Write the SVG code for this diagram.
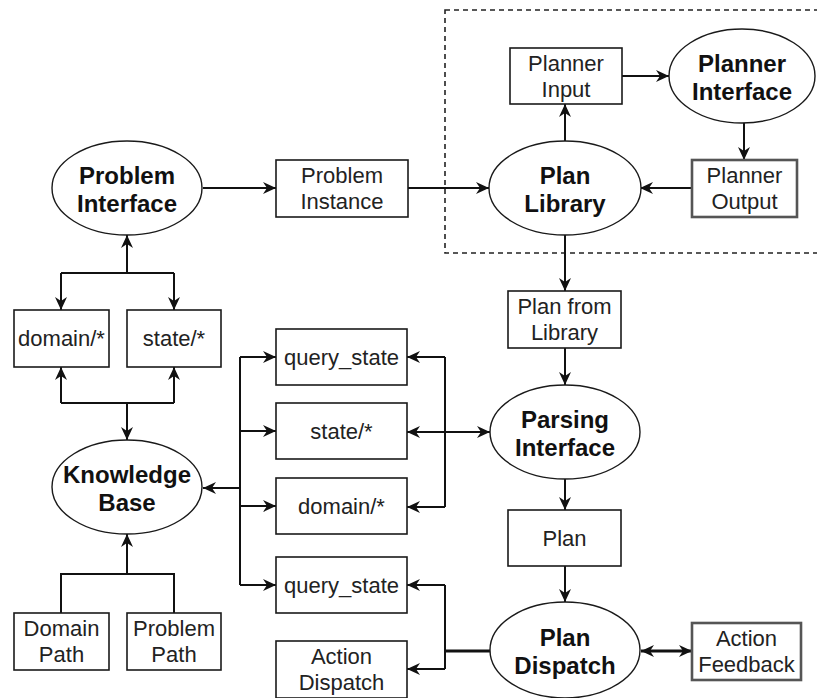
<svg xmlns="http://www.w3.org/2000/svg" width="817" height="698" viewBox="0 0 817 698">
  <style>
    .box { fill: #ffffff; stroke: #1a1a1a; stroke-width: 1.6; }
    .box2 { fill: #ffffff; stroke: #555555; stroke-width: 2.6; }
    .ell { fill: #ffffff; stroke: #1a1a1a; stroke-width: 1.4; }
    .t { font-family: "Liberation Sans", Arial, sans-serif; font-size: 22px; fill: #222222; text-anchor: middle; }
    .b { font-family: "Liberation Sans", Arial, sans-serif; font-size: 24px; font-weight: bold; fill: #111111; text-anchor: middle; }
    .ln { fill: none; stroke: #111111; stroke-width: 2; }
    .lnb { fill: none; stroke: #111111; stroke-width: 3; }
    .arr { marker-end: url(#ah); }
    .arr2 { marker-start: url(#ah); marker-end: url(#ah); }
  </style>
  <defs>
    <marker id="ah" viewBox="0 0 13 12" refX="13" refY="6" markerWidth="13" markerHeight="12" markerUnits="userSpaceOnUse" orient="auto-start-reverse">
      <path d="M0,0 L13,6 L0,12 L4,6 z" fill="#111111"/>
    </marker>
  </defs>

  <rect x="0" y="0" width="817" height="698" fill="#ffffff"/>

  <!-- planner subsystem boundary -->
  <rect id="planner-boundary" x="445" y="10" width="380" height="243" fill="none" stroke="#222222" stroke-width="1.6" stroke-dasharray="5,4"/>

  <!-- connectors -->
  <g id="connectors">
    <path class="ln arr" d="M203,188 H276"/>
    <path class="ln arr" d="M408,188 H489"/>
    <path class="ln arr" d="M565,142 V104"/>
    <path class="ln arr" d="M622,76 H669"/>
    <path class="ln arr" d="M744,123 V160"/>
    <path class="ln arr" d="M692,188 H640"/>
    <path class="ln arr" d="M565,235 V291"/>
    <path class="ln arr" d="M565,348 V385"/>
    <path class="ln arr" d="M565,478 V510"/>
    <path class="ln arr" d="M565,566 V602"/>
    <path class="lnb arr2" d="M641,651 H692"/>

    <!-- plan dispatch outputs -->
    <path class="lnb" d="M490,651 H445"/>
    <path class="ln" d="M445,585 V669"/>
    <path class="ln arr" d="M445,585 H407"/>
    <path class="ln arr" d="M445,669 H407"/>

    <!-- parsing interface queries -->
    <path class="ln arr2" d="M490,432 H407"/>
    <path class="ln" d="M445,357 V507"/>
    <path class="ln arr" d="M445,357 H407"/>
    <path class="ln arr" d="M445,507 H407"/>

    <!-- knowledge base services -->
    <path class="ln" d="M240,357 V585"/>
    <path class="ln arr" d="M240,357 H276"/>
    <path class="ln arr" d="M240,431 H276"/>
    <path class="ln arr" d="M240,506 H276"/>
    <path class="ln arr" d="M240,585 H276"/>
    <path class="ln arr" d="M240,488 H203"/>

    <!-- problem interface to knowledge base topics -->
    <path class="ln arr" d="M127,273 V235"/>
    <path class="ln" d="M61,273 H174"/>
    <path class="ln arr" d="M61,273 V310"/>
    <path class="ln arr" d="M174,273 V310"/>
    <path class="ln" d="M61,403 H174"/>
    <path class="ln arr" d="M61,403 V367"/>
    <path class="ln arr" d="M174,403 V367"/>
    <path class="ln arr" d="M127,403 V440"/>

    <!-- paths into knowledge base -->
    <path class="ln" d="M61,613 V574 H174 V613"/>
    <path class="ln arr" d="M127,574 V534"/>
  </g>

  <!-- nodes -->
  <g id="planner-input">
    <rect class="box" x="510" y="48" width="112" height="56"/>
    <text class="t" x="566" y="71">Planner</text>
    <text class="t" x="566" y="96.5">Input</text>
  </g>
  <g id="planner-interface">
    <ellipse class="ell" cx="742" cy="76" rx="73" ry="47"/>
    <text class="b" x="742" y="71.5">Planner</text>
    <text class="b" x="742" y="99.5">Interface</text>
  </g>
  <g id="plan-library">
    <ellipse class="ell" cx="565" cy="188" rx="76" ry="47"/>
    <text class="b" x="565" y="183.5">Plan</text>
    <text class="b" x="565" y="211.5">Library</text>
  </g>
  <g id="planner-output">
    <rect class="box2" x="692" y="160" width="105" height="57"/>
    <text class="t" x="744.5" y="183">Planner</text>
    <text class="t" x="744.5" y="209">Output</text>
  </g>
  <g id="problem-interface">
    <ellipse class="ell" cx="127" cy="188" rx="75" ry="47"/>
    <text class="b" x="127" y="183.5">Problem</text>
    <text class="b" x="127" y="211.5">Interface</text>
  </g>
  <g id="problem-instance">
    <rect class="box" x="276" y="160" width="132" height="57"/>
    <text class="t" x="342" y="183">Problem</text>
    <text class="t" x="342" y="209">Instance</text>
  </g>
  <g id="pi-domain">
    <rect class="box" x="14" y="310" width="95" height="57"/>
    <text class="t" x="61.5" y="346">domain/*</text>
  </g>
  <g id="pi-state">
    <rect class="box" x="127" y="310" width="94" height="57"/>
    <text class="t" x="174" y="346">state/*</text>
  </g>
  <g id="knowledge-base">
    <ellipse class="ell" cx="127" cy="487" rx="75" ry="47"/>
    <text class="b" x="127" y="483">Knowledge</text>
    <text class="b" x="127" y="511">Base</text>
  </g>
  <g id="domain-path">
    <rect class="box" x="14" y="613" width="95" height="57"/>
    <text class="t" x="61.5" y="636">Domain</text>
    <text class="t" x="61.5" y="662">Path</text>
  </g>
  <g id="problem-path">
    <rect class="box" x="127" y="613" width="94" height="57"/>
    <text class="t" x="174" y="636">Problem</text>
    <text class="t" x="174" y="662">Path</text>
  </g>
  <g id="kb-query-state">
    <rect class="box" x="276" y="329" width="131" height="56"/>
    <text class="t" x="341.5" y="365">query_state</text>
  </g>
  <g id="kb-state">
    <rect class="box" x="276" y="403" width="131" height="56"/>
    <text class="t" x="341.5" y="439">state/*</text>
  </g>
  <g id="kb-domain">
    <rect class="box" x="276" y="478" width="131" height="56"/>
    <text class="t" x="341.5" y="514">domain/*</text>
  </g>
  <g id="kb-query-state-2">
    <rect class="box" x="276" y="557" width="131" height="56"/>
    <text class="t" x="341.5" y="593">query_state</text>
  </g>
  <g id="action-dispatch">
    <rect class="box" x="276" y="641" width="131" height="57"/>
    <text class="t" x="341.5" y="664">Action</text>
    <text class="t" x="341.5" y="690">Dispatch</text>
  </g>
  <g id="plan-from-library">
    <rect class="box" x="508" y="291" width="113" height="57"/>
    <text class="t" x="564.5" y="314">Plan from</text>
    <text class="t" x="564.5" y="340">Library</text>
  </g>
  <g id="parsing-interface">
    <ellipse class="ell" cx="565" cy="432" rx="75" ry="47"/>
    <text class="b" x="565" y="427.5">Parsing</text>
    <text class="b" x="565" y="455.5">Interface</text>
  </g>
  <g id="plan">
    <rect class="box" x="508" y="510" width="113" height="56"/>
    <text class="t" x="564.5" y="546">Plan</text>
  </g>
  <g id="plan-dispatch">
    <ellipse class="ell" cx="565" cy="650" rx="75" ry="48"/>
    <text class="b" x="565" y="645.5">Plan</text>
    <text class="b" x="565" y="673.5">Dispatch</text>
  </g>
  <g id="action-feedback">
    <rect class="box2" x="692" y="623" width="109" height="57"/>
    <text class="t" x="746.5" y="646">Action</text>
    <text class="t" x="746.5" y="672">Feedback</text>
  </g>
</svg>
